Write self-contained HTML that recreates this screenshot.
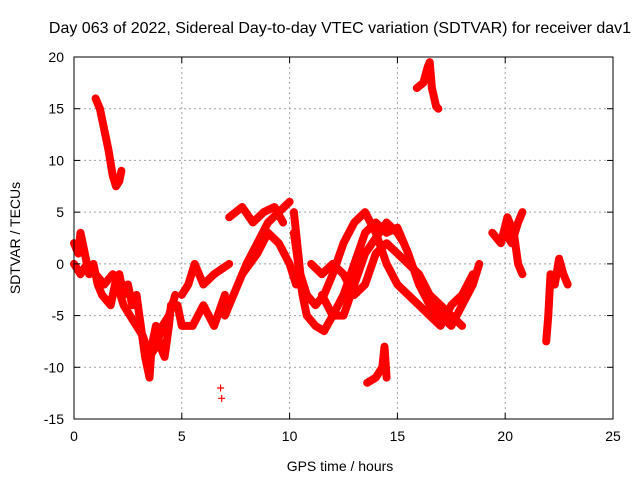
<!DOCTYPE html>
<html><head><meta charset="utf-8"><style>
body{margin:0;background:#fff;}
svg{display:block;font-family:"Liberation Sans",sans-serif;}
</style></head><body>
<svg id="chart" width="640" height="480" viewBox="0 0 640 480">
<text x="340" y="33" font-size="16" text-anchor="middle" fill="#000">Day 063 of 2022, Sidereal Day-to-day VTEC variation (SDTVAR) for receiver dav1</text>
<text x="340" y="471" font-size="14" text-anchor="middle">GPS time / hours</text>
<text transform="translate(20,238) rotate(-90)" font-size="14" text-anchor="middle">SDTVAR / TECUs</text>
<g id="grid"></g>
<g id="marks"></g>
<rect x="74" y="57" width="539" height="362" fill="none" stroke="#000" stroke-width="1"/>
<g id="ticks"></g>
</svg>
<script>
const xTicks=[0,5,10,15,20,25];
const yTicks=[-15,-10,-5,0,5,10,15,20];
const trackA=[[0,2],[0.2,1],[0.3,3],[0.5,1],[0.7,-1],[0.9,0],[1.1,-2],[1.3,-3],[1.5,-3.5],[1.7,-4],[1.9,-2],[2.1,-1],[2.3,-3],[2.5,-2],[2.7,-4],[2.9,-3],[3.1,-6],[3.3,-9],[3.5,-11],[3.6,-8],[3.8,-6],[4.0,-8],[4.2,-9],[4.4,-6],[4.5,-4]];
const trackA2=[[0,0],[0.3,-1],[0.6,0],[1.0,-1],[1.4,-2],[1.8,-1],[2.0,-2],[2.3,-4],[2.6,-5],[2.9,-6],[3.2,-7],[3.5,-9],[3.8,-8],[4.1,-6],[4.4,-5],[4.7,-3]];
const trackB=[[1.0,16],[1.2,15],[1.4,13],[1.6,11],[1.8,8.5],[1.95,7.5],[2.1,8],[2.2,9]];
const trackC=[[4.8,-4],[5.0,-6],[5.5,-6],[6.0,-4],[6.5,-6],[7.0,-3]];
const trackD=[[5.0,-3],[5.3,-2],[5.6,0],[6.0,-2],[6.5,-1],[7.2,0]];
const trackE=[[7.0,-5],[7.2,-4],[7.6,-2],[8.0,0],[8.5,2],[9.0,4],[9.5,5],[10.0,6]];
const trackF=[[7.2,4.5],[7.8,5.5],[8.3,4],[8.8,5],[9.3,5.5],[9.7,4]];
const trackG=[[7.8,-1],[8.5,1],[9.0,3],[9.5,2],[10.0,0],[10.3,-2]];
const trackH=[[10.2,3],[10.4,0],[10.6,-3],[10.8,-5],[11.2,-6],[11.6,-6.5],[12.0,-5],[12.5,-3],[13.0,0],[13.5,3],[14.0,4],[14.5,3],[15.0,3.5],[15.5,1],[16.0,-2],[16.5,-4],[17.0,-5],[17.5,-6],[18.0,-4],[18.5,-2],[18.8,0]];
const trackI=[[10.2,5],[10.5,-1],[10.8,-3],[11.2,-4],[11.6,-3],[12.0,-1],[12.5,2],[13.0,4],[13.5,5],[14.0,3],[14.5,0],[15.0,-2],[15.5,-3],[16.0,-4],[16.5,-5],[17.0,-6],[17.5,-4],[18.0,-3],[18.5,-1]];
const trackJ=[[11.0,0],[11.5,-1],[12.0,0],[12.5,-1],[13.0,-3],[13.5,-2],[14.0,1],[14.5,2],[15.0,1],[15.5,0],[16.0,-1],[16.5,-3],[17.0,-4],[17.5,-5],[18.0,-6]];
const trackK=[[11.5,-3],[12.0,-5],[12.5,-5],[13.0,-2],[13.5,1],[14.0,2.5],[14.5,4],[15.0,3],[15.3,2]];
const trackL=[[13.6,-11.5],[14.0,-11],[14.3,-10],[14.4,-8],[14.5,-11]];
const trackM=[[15.9,17],[16.2,17.5],[16.4,19],[16.5,19.5],[16.6,17],[16.8,15.2],[16.9,15]];
const trackN=[[19.4,3],[19.8,2],[20.1,4.5],[20.4,3],[20.6,0],[20.8,-1]];
const trackO=[[20.0,3],[20.3,2],[20.6,4],[20.8,5]];
const trackP=[[21.9,-7.5],[22.0,-5],[22.1,-1],[22.3,-2],[22.5,0.5],[22.7,-1],[22.9,-2]];
const isolated=[[6.8,-12],[6.85,-13]];
const tracks=[trackA,trackA2,trackB,trackC,trackD,trackE,trackF,trackG,trackH,trackI,trackJ,trackK,trackL,trackM,trackN,trackO,trackP];

const X0=74,X1=613,Y0=419,Y1=57;
const sx=v=>X0+(v-0)/(25-0)*(X1-X0);
const sy=v=>Y0-(v+15)/(35)*(Y0-Y1);
const NS="http://www.w3.org/2000/svg";
const grid=document.getElementById('grid'),ticks=document.getElementById('ticks'),marks=document.getElementById('marks');
function mk(tag,attrs,parent){const e=document.createElementNS(NS,tag);for(const k in attrs)e.setAttribute(k,attrs[k]);parent.appendChild(e);return e;}
xTicks.forEach(t=>{
  const x=sx(t);
  if(t>0&&t<25){const g=mk('line',{x1:x,x2:x,y1:Y1,y2:Y0,stroke:'#a0a0a0','stroke-dasharray':'2,3'},grid);
  
  }
  mk('line',{x1:x,x2:x,y1:Y0,y2:Y0-6,stroke:'#000'},ticks);
  mk('line',{x1:x,x2:x,y1:Y1,y2:Y1+6,stroke:'#000'},ticks);
  const tx=mk('text',{x:x,y:Y0+22,'font-size':14,'text-anchor':'middle'},ticks);
  tx.textContent=t;
  
  
});
yTicks.forEach(t=>{
  const y=sy(t);
  if(t>-15&&t<20){const g=mk('line',{x1:X0,x2:X1,y1:y,y2:y,stroke:'#a0a0a0','stroke-dasharray':'2,3'},grid);
  
  }
  mk('line',{x1:X0,x2:X0+6,y1:y,y2:y,stroke:'#000'},ticks);
  mk('line',{x1:X1,x2:X1-6,y1:y,y2:y,stroke:'#000'},ticks);
  const tx=mk('text',{x:X0-10,y:y+5,'font-size':14,'text-anchor':'end'},ticks);
  tx.textContent=t;
  
  
});
function plus(p){
  const x=sx(p[0]),y=sy(p[1]);
  const m=mk('path',{d:`M${x-3.5},${y}H${x+3.5}M${x},${y-3.5}V${y+3.5}`,stroke:'#f00','stroke-width':1.2},marks);
  
  
}
tracks.forEach(tr=>{
  const d=tr.map((p,i)=>(i?'L':'M')+sx(p[0]).toFixed(1)+','+sy(p[1]).toFixed(1)).join('');
  const pth=mk('path',{d:d,fill:'none',stroke:'#f00','stroke-width':8,'stroke-linejoin':'round','stroke-linecap':'round'},marks);
  
  
  tr.forEach(plus);
});
isolated.forEach(plus);
</script>
</body></html>
